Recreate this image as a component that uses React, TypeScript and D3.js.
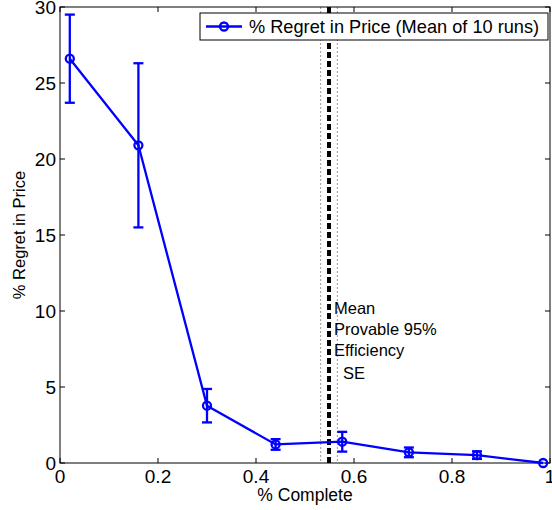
import React from "react";
import * as d3 from "d3";

const xs = [0.02, 0.16, 0.30, 0.44, 0.576, 0.712, 0.851, 0.986];
const means = [26.6, 20.9, 3.77, 1.22, 1.4, 0.7, 0.52, 0.0];
const errs = [2.9, 5.4, 1.1, 0.35, 0.65, 0.32, 0.25, 0.0];
const xTicks = [0, 0.2, 0.4, 0.6, 0.8, 1];
const yTicks = [0, 5, 10, 15, 20, 25, 30];
const meanEff = [0.549];
const seEff = [0.532, 0.566];
const legendLabel = "% Regret in Price (Mean of 10 runs)";
const annotations = ["Mean", "Provable 95%", "Efficiency"];

export default function App() {
  const W = 552, H = 510;
  const L = 60, R = 550, T = 7, B = 463;
  const x = d3.scaleLinear().domain([0, 1]).range([L, R]);
  const y = d3.scaleLinear().domain([0, 30]).range([B, T]);
  const line = d3.line<number>().x((_, i) => x(xs[i])).y((d) => y(d));
  const font = "Liberation Sans, Arial, Helvetica, sans-serif";
  const blue = "#0000ff";
  const tickLen = 5;
  return (
    <svg width={W} height={H} style={{ position: "absolute", left: 0, top: 0, background: "#fff" }} fontFamily={font}>
      <rect x={0} y={0} width={W} height={H} fill="#fff" />
      {seEff.map((v, i) => (
        <line key={"se" + i} x1={x(v)} x2={x(v)} y1={T} y2={B} stroke="#999" strokeWidth={1} strokeDasharray="2,2" />
      ))}
      {meanEff.map((v, i) => (
        <line key={"m" + i} x1={x(v)} x2={x(v)} y1={T} y2={B} stroke="#000" strokeWidth={4} strokeDasharray="6,3" />
      ))}
      <rect x={L} y={T} width={R - L} height={B - T} fill="none" stroke="#000" strokeWidth={1} />
      {xTicks.map((t) => (
        <g key={"xt" + t}>
          <line x1={x(t)} x2={x(t)} y1={B} y2={B - tickLen} stroke="#000" />
          <line x1={x(t)} x2={x(t)} y1={T} y2={T + tickLen} stroke="#000" />
          <text x={x(t)} y={B + 20} fontSize={19} textAnchor="middle">{t}</text>
        </g>
      ))}
      {yTicks.map((t) => (
        <g key={"yt" + t}>
          <line x1={L} x2={L + tickLen} y1={y(t)} y2={y(t)} stroke="#000" />
          <line x1={R} x2={R - tickLen} y1={y(t)} y2={y(t)} stroke="#000" />
          <text x={L - 4} y={y(t) + 7} fontSize={19} textAnchor="end">{t}</text>
        </g>
      ))}
      <text x={(L + R) / 2} y={501} fontSize={17.5} textAnchor="middle">% Complete</text>
      <text transform={`translate(25,${(T + B) / 2}) rotate(-90)`} fontSize={16.5} textAnchor="middle">% Regret in Price</text>
      <path d={line(means) || ""} fill="none" stroke={blue} strokeWidth={2.3} />
      {means.map((m, i) => (
        <g key={"p" + i} stroke={blue} strokeWidth={2.3} fill="none">
          {errs[i] > 0 && (
            <>
              <line x1={x(xs[i])} x2={x(xs[i])} y1={y(m - errs[i])} y2={y(m + errs[i])} />
              <line x1={x(xs[i]) - 5} x2={x(xs[i]) + 5} y1={y(m - errs[i])} y2={y(m - errs[i])} />
              <line x1={x(xs[i]) - 5} x2={x(xs[i]) + 5} y1={y(m + errs[i])} y2={y(m + errs[i])} />
            </>
          )}
          <circle cx={x(xs[i])} cy={y(m)} r={4} />
        </g>
      ))}
      {annotations.map((a, i) => (
        <text key={"a" + i} x={334} y={314 + i * 21} fontSize={16.5}>{a}</text>
      ))}
      <text x={343} y={379} fontSize={16.5}>SE</text>
      <rect x={200} y={13} width={348} height={27} fill="#fff" stroke="#000" strokeWidth={1} />
      <line x1={206} x2={242} y1={26.5} y2={26.5} stroke={blue} strokeWidth={2.3} />
      <circle cx={224} cy={26.5} r={4} fill="none" stroke={blue} strokeWidth={2.3} />
      <text x={249} y={33} fontSize={18.2}>{legendLabel}</text>
    </svg>
  );
}
